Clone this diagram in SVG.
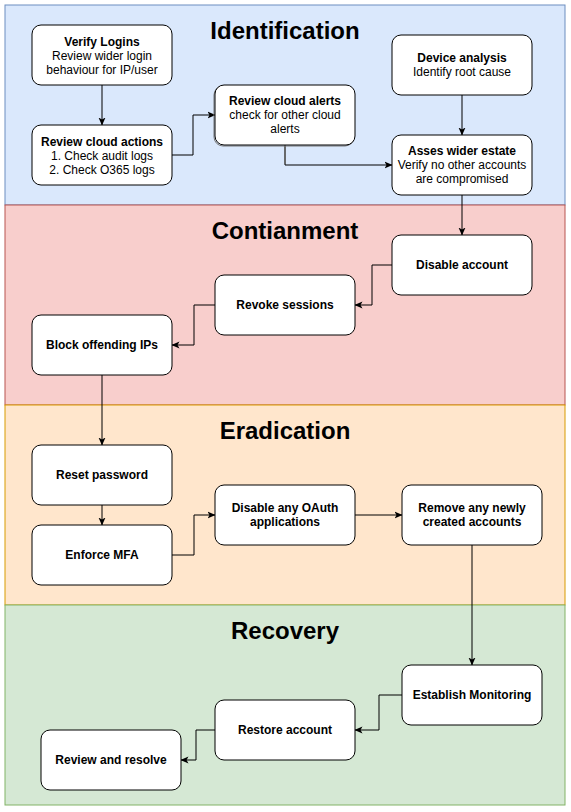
<svg xmlns="http://www.w3.org/2000/svg" width="571" height="812" viewBox="0 0 571 812">
<defs>
<marker id="arr" markerUnits="userSpaceOnUse" markerWidth="8" markerHeight="8" viewBox="0 0 8 8" refX="7.5" refY="4" orient="auto">
<path d="M0,0.5 L8,4 L0,7.5 L2,4 Z" fill="#000"/>
</marker>
<style>
.node rect{fill:#fff;stroke:#000;stroke-width:1}
text{font-family:"Liberation Sans",Arial,Helvetica,sans-serif;font-size:12px;fill:#000;text-anchor:middle}
.b{font-weight:bold}
.title{font-size:24px;font-weight:bold}
.conn path{fill:none;stroke:#000;stroke-width:1;marker-end:url(#arr)}
</style>
</defs>
<rect width="571" height="812" fill="#fff"/>
<g id="bands">
<rect x="5" y="5" width="560" height="200" fill="#dae8fc" stroke="#6c8ebf"/>
<rect x="5" y="205" width="560" height="200" fill="#f8cecc" stroke="#b85450"/>
<rect x="5" y="405" width="560" height="200" fill="#ffe6cc" stroke="#d79b00"/>
<rect x="5" y="605" width="560" height="200" fill="#d5e8d4" stroke="#82b366"/>
<text class="title" x="285" y="39">Identification</text>
<text class="title" x="285" y="239">Contianment</text>
<text class="title" x="285" y="439">Eradication</text>
<text class="title" x="285" y="639">Recovery</text>
</g>
<g id="connectors" class="conn">
<path d="M102,85 V125"/>
<path d="M172,155 H193 V115 H215"/>
<path d="M285,145 V165 H392" style="stroke:#000"/>
<path d="M462,95 V135"/>
<path d="M462,195 V235"/>
<path d="M392,265 H372 V305 H355"/>
<path d="M215,305 H194 V345 H172"/>
<path d="M102,375 V445"/>
<path d="M102,505 V525"/>
<path d="M172,555 H194 V515 H215"/>
<path d="M355,515 H402"/>
<path d="M472,545 V665"/>
<path d="M402,695 H379 V730 H355"/>
<path d="M215,730 H196 V760 H181"/>
</g>
<line x1="285" y1="146" x2="285" y2="164" stroke="#666" stroke-width="1.5"/>
<g id="n-verify" class="node">
<rect x="32" y="25" width="140" height="60" rx="9"/>
<text class="b" x="102" y="46">Verify Logins</text>
<text x="102" y="60">Review wider login</text>
<text x="102" y="74">behaviour for IP/user</text>
</g>
<g id="n-cloudactions" class="node">
<rect x="32" y="125" width="140" height="60" rx="9"/>
<text class="b" x="102" y="146">Review cloud actions</text>
<text x="102" y="160">1. Check audit logs</text>
<text x="102" y="174">2. Check O365 logs</text>
</g>
<g id="n-cloudalerts" class="node">
<rect x="214" y="86" width="140" height="60" rx="9" style="fill:none;stroke:#777"/>
<rect x="215" y="85" width="140" height="60" rx="9"/>
<text class="b" x="285" y="105">Review cloud alerts</text>
<text x="285" y="119">check for other cloud</text>
<text x="285" y="133">alerts</text>
</g>
<g id="n-device" class="node">
<rect x="392" y="35" width="140" height="60" rx="9"/>
<text class="b" x="462" y="62">Device analysis</text>
<text x="462" y="76">Identify root cause</text>
</g>
<g id="n-estate" class="node">
<rect x="392" y="135" width="140" height="60" rx="9"/>
<text class="b" x="462" y="155">Asses wider estate</text>
<text x="462" y="169">Verify no other accounts</text>
<text x="462" y="183">are compromised</text>
</g>
<g id="n-disable" class="node">
<rect x="392" y="235" width="140" height="60" rx="9"/>
<text class="b" x="462" y="269">Disable account</text>
</g>
<g id="n-revoke" class="node">
<rect x="215" y="275" width="140" height="60" rx="9"/>
<text class="b" x="285" y="309">Revoke sessions</text>
</g>
<g id="n-block" class="node">
<rect x="32" y="315" width="140" height="60" rx="9"/>
<text class="b" x="102" y="349">Block offending IPs</text>
</g>
<g id="n-reset" class="node">
<rect x="32" y="445" width="140" height="60" rx="9"/>
<text class="b" x="102" y="479">Reset password</text>
</g>
<g id="n-mfa" class="node">
<rect x="32" y="525" width="140" height="60" rx="9"/>
<text class="b" x="102" y="559">Enforce MFA</text>
</g>
<g id="n-oauth" class="node">
<rect x="215" y="485" width="140" height="60" rx="9"/>
<text class="b" x="285" y="512">Disable any OAuth</text>
<text class="b" x="285" y="526">applications</text>
</g>
<g id="n-remove" class="node">
<rect x="402" y="485" width="140" height="60" rx="9"/>
<text class="b" x="472" y="512">Remove any newly</text>
<text class="b" x="472" y="526">created accounts</text>
</g>
<g id="n-monitor" class="node">
<rect x="402" y="665" width="140" height="60" rx="9"/>
<text class="b" x="472" y="699">Establish Monitoring</text>
</g>
<g id="n-restore" class="node">
<rect x="215" y="700" width="140" height="60" rx="9"/>
<text class="b" x="285" y="734">Restore account</text>
</g>
<g id="n-review" class="node">
<rect x="41" y="730" width="140" height="60" rx="9"/>
<text class="b" x="111" y="764">Review and resolve</text>
</g>
</svg>
